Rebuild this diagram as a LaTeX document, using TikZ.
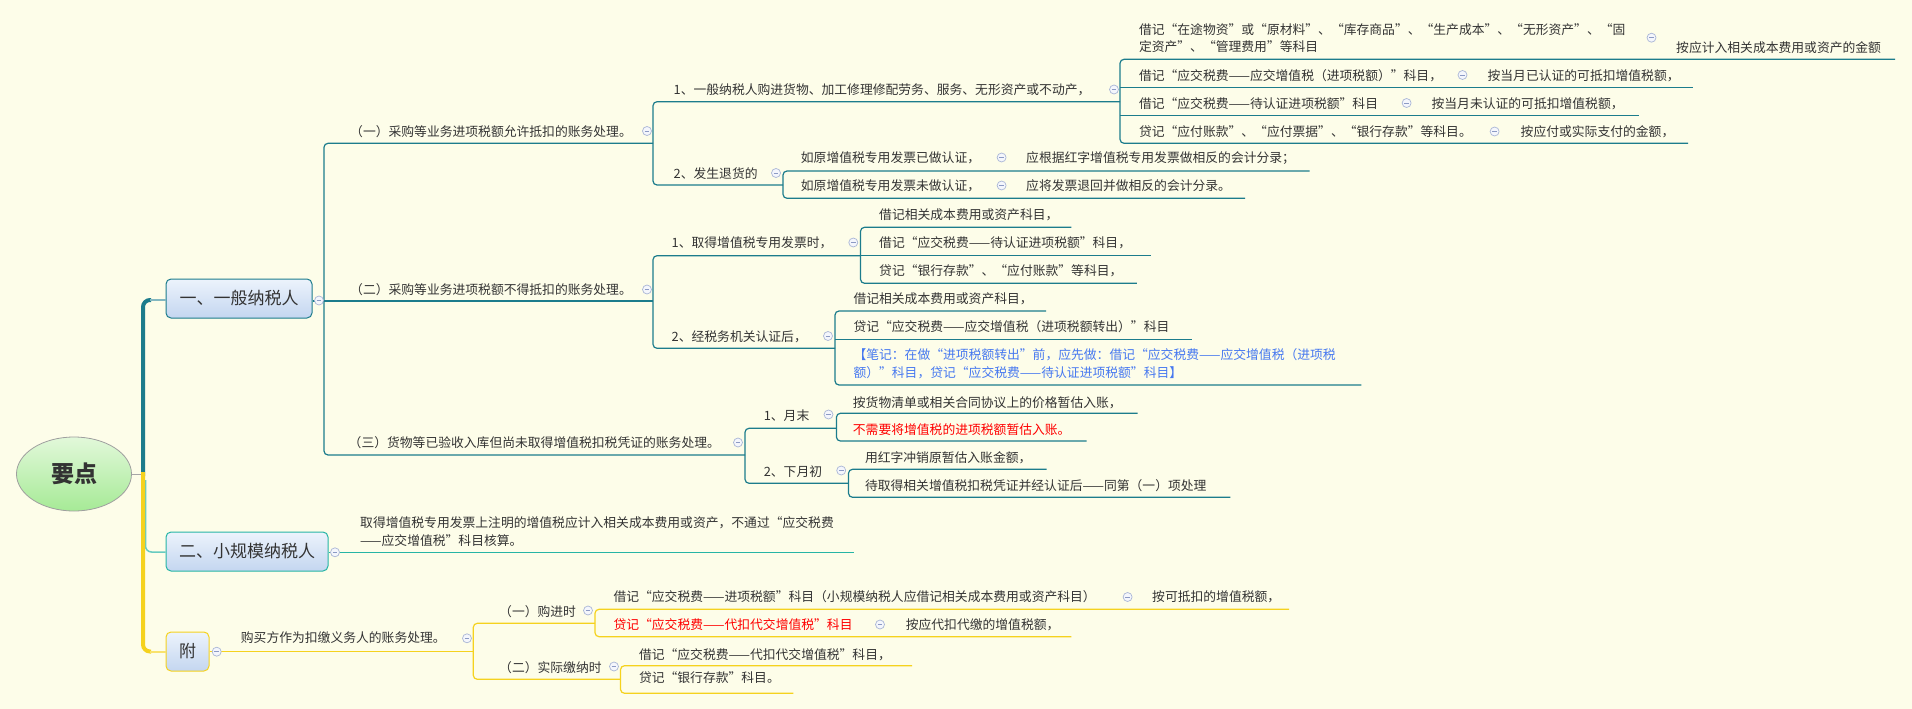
\documentclass[tikz,border=0pt]{standalone}
\usepackage{fontspec}
\setmainfont{Noto Sans CJK SC}
\usetikzlibrary{shapes.geometric}
\definecolor{bgc}{RGB}{253,253,233}
\definecolor{txtc}{RGB}{51,51,51}
\definecolor{tealc}{RGB}{28,124,140}
\definecolor{grc}{RGB}{38,181,165}
\definecolor{ylc}{RGB}{245,210,30}
\definecolor{colb}{RGB}{170,182,214}
\definecolor{colf}{RGB}{244,246,252}
\definecolor{colm}{RGB}{140,154,196}
\definecolor{redc}{RGB}{255,0,0}
\definecolor{bluec}{RGB}{70,120,240}
\definecolor{nodetop}{RGB}{236,243,252}
\definecolor{nodebot}{RGB}{196,214,240}
\definecolor{roottop}{RGB}{226,248,218}
\definecolor{rootbot}{RGB}{166,234,150}
\begin{document}
\begin{tikzpicture}[x=1pt,y=-1pt,
  txt/.style={anchor=west,inner sep=0pt,text=txtc,font=\fontsize{12.8}{17.5}\selectfont,text height=11pt,text depth=2pt},
  mtxt/.style={anchor=north west,inner sep=0pt,text=txtc,align=left,font=\fontsize{12.8}{17.5}\selectfont},
  tl/.style={draw=tealc,line width=1.2pt,rounded corners=4pt},
  gl/.style={draw=grc,line width=1.2pt},
  yl/.style={draw=ylc,line width=1.2pt,rounded corners=4pt},
  col/.style={circle,draw=colb,fill=colf,line width=0.7pt,minimum size=9pt,inner sep=0pt,
    path picture={\draw[colm,line width=0.8pt] ([xshift=-2.4pt]path picture bounding box.center) -- ([xshift=2.4pt]path picture bounding box.center);}},
  mainbox/.style={rectangle,rounded corners=5pt,top color=nodetop,bottom color=nodebot,line width=1pt,
    minimum height=39pt,inner sep=0pt,text=txtc,font=\fontsize{17}{17}\selectfont}
]
\fill[bgc] (0,0) rectangle (1912,709);
\useasboundingbox (0,0) rectangle (1912,709);

% ---------- root and trunk ----------
\node[ellipse,draw=gray!75,line width=0.8pt,top color=roottop,bottom color=rootbot,
  minimum width=115pt,minimum height=74pt,inner sep=0pt,text=txtc] (root) at (74,474)
  {\fontsize{23}{23}\selectfont\bfseries 要点};
\node[mainbox,draw=tealc,minimum width=146pt] (n1) at (239,298.5) {一、一般纳税人};
\node[mainbox,draw=grc,minimum width=162pt] (n2) at (247,551.5) {二、小规模纳税人};
\node[mainbox,draw=ylc,minimum width=43pt] (n3) at (187.5,651.5) {附};

\draw[gray!70,line width=1pt] (root.east) -- (143,474);
\draw[grc!70,line width=1.5pt,rounded corners=6pt] (145.5,480) -- (145.5,552) -- (n2.west |- 0,552);
\draw[tealc,line width=4pt,rounded corners=7pt] (143,476) -- (143,300) -- (151,300);
\draw[tealc!55,line width=2pt] (150,300) -- (n1.west |- 0,300);
\draw[ylc,line width=4pt,rounded corners=7pt] (143,472) -- (143,651.5) -- (151,651.5);
\draw[ylc!65,line width=2pt] (150,651.5) -- (n3.west |- 0,651.5);

% ---------- subtree 一 ----------
\draw[tl] (n1.east |- 0,301) -- (324,301);
\draw[tl] (653,143.3) -- (324,143.3) -- (324,455) -- (745,455);
\draw[tl] (324,301) -- (653,301);
\node[col] (k1) at (319,300.5) {};

\node[txt] (a1) at (350,131.5) {（一）采购等业务进项税额允许抵扣的账务处理。};
\node[col] (ka1) at (647,131) {};
\node[txt] (a2) at (350,290) {（二）采购等业务进项税额不得抵扣的账务处理。};
\node[col] (ka2) at (647,289.5) {};
\node[txt] (a3) at (348.5,443) {（三）货物等已验收入库但尚未取得增值税扣税凭证的账务处理。};
\node[col] (ka3) at (738,442.5) {};

% (一) children
\draw[tl] (1120,101.7) -- (653,101.7) -- (653,185) -- (783,185);
\node[txt] (b1) at (673.5,90) {1、一般纳税人购进货物、加工修理修配劳务、服务、无形资产或不动产，};
\node[col] (kb1) at (1114,89.5) {};
\node[txt] (b2) at (673.5,174) {2、发生退货的};
\node[col] (kb2) at (776,173) {};

\draw[tl] (1895,59.3) -- (1120,59.3) -- (1120,143.3) -- (1688,143.3);
\draw[tl] (1120,87.3) -- (1693,87.3);
\draw[tl] (1120,115.3) -- (1638.6,115.3);
\node[mtxt] (c1) at (1138.8,23) {借记“在途物资”或“原材料”、“库存商品”、“生产成本”、“无形资产”、“固\\定资产”、“管理费用”等科目};
\node[col] (kc1) at (1651.5,37.7) {};
\node[txt] (c1g) at (1676,47.7) {按应计入相关成本费用或资产的金额};
\node[txt] (c2) at (1138.8,76) {借记“应交税费——应交增值税（进项税额）”科目，};
\node[col] (kc2) at (1462.5,75) {};
\node[txt] (c2g) at (1487.4,76) {按当月已认证的可抵扣增值税额，};
\node[txt] (c3) at (1138.8,104) {借记“应交税费——待认证进项税额”科目};
\node[col] (kc3) at (1406.6,103) {};
\node[txt] (c3g) at (1431.4,104) {按当月未认证的可抵扣增值税额，};
\node[txt] (c4) at (1138.8,132.3) {贷记“应付账款”、“应付票据”、“银行存款”等科目。};
\node[col] (kc4) at (1494.6,131.5) {};
\node[txt] (c4g) at (1520.5,132.3) {按应付或实际支付的金额，};

\draw[tl] (1309.6,171) -- (783,171) -- (783,198.3) -- (1245,198.3);
\node[txt] (d1) at (800.7,158.3) {如原增值税专用发票已做认证，};
\node[col] (kd1) at (1001.6,157.5) {};
\node[txt] (d1g) at (1026,158.3) {应根据红字增值税专用发票做相反的会计分录；};
\node[txt] (d2) at (800.7,186) {如原增值税专用发票未做认证，};
\node[col] (kd2) at (1001.6,185.5) {};
\node[txt] (d2g) at (1026,186) {应将发票退回并做相反的会计分录。};

% (二) children
\draw[tl] (860.5,255.7) -- (653,255.7) -- (653,348.3) -- (835,348.3);
\node[txt] (e1) at (671.5,243.3) {1、取得增值税专用发票时，};
\node[col] (ke1) at (853.3,242.5) {};
\node[txt] (e2) at (671.5,336.7) {2、经税务机关认证后，};
\node[col] (ke2) at (828,336) {};

\draw[tl] (1071.4,227.3) -- (860.5,227.3) -- (860.5,283.3) -- (1136.8,283.3);
\draw[tl] (860.5,255.7) -- (1151.4,255.7);
\node[txt] (f1) at (879,215) {借记相关成本费用或资产科目，};
\node[txt] (f2) at (879,243.3) {借记“应交税费——待认证进项税额”科目，};
\node[txt] (f3) at (879,271) {贷记“银行存款”、“应付账款”等科目，};

\draw[tl] (1046.2,311) -- (835,311) -- (835,385) -- (1361.3,385);
\draw[tl] (835,339.3) -- (1191.6,339.3);
\node[txt] (g1) at (853.3,299.3) {借记相关成本费用或资产科目，};
\node[txt] (g2) at (853.3,326.7) {贷记“应交税费——应交增值税（进项税额转出）”科目};
\node[mtxt,text=bluec] (g3) at (853.3,348.7) {【笔记：在做“进项税额转出”前，应先做：借记“应交税费——应交增值税（进项税\\额）”科目，贷记“应交税费——待认证进项税额”科目】};

% (三) children
\draw[tl] (836.4,428.3) -- (745,428.3) -- (745,483.3) -- (848.5,483.3);
\node[txt] (h1) at (763.6,416) {1、月末};
\node[col] (kh1) at (828.5,414.5) {};
\node[txt] (h2) at (763.6,471.7) {2、下月初};
\node[col] (kh2) at (841.2,470.5) {};

\draw[tl] (1137.6,413.3) -- (836.4,413.3) -- (836.4,441) -- (1086.7,441);
\node[txt] (i1) at (852.7,402.7) {按货物清单或相关合同协议上的价格暂估入账，};
\node[txt,text=redc] (i2) at (852.7,430) {不需要将增值税的进项税额暂估入账。};

\draw[tl] (1046.7,469.3) -- (848.5,469.3) -- (848.5,497.3) -- (1230.3,497.3);
\node[txt] (j1) at (864.8,458.3) {用红字冲销原暂估入账金额，};
\node[txt] (j2) at (864.8,486) {待取得相关增值税扣税凭证并经认证后——同第（一）项处理};

% ---------- subtree 二 ----------
\draw[gl] (n2.east |- 0,552.3) -- (853.6,552.3);
\node[col] (k2) at (335,552.3) {};
\node[mtxt,font=\fontsize{12.8}{18.6}\selectfont] (s1) at (360,516.3) {取得增值税专用发票上注明的增值税应计入相关成本费用或资产，不通过“应交税费\\——应交增值税”科目核算。};

% ---------- subtree 附 ----------
\draw[yl] (n3.east |- 0,651.7) -- (473.3,651.7);
\draw[yl] (595,623.3) -- (473.3,623.3) -- (473.3,679.3) -- (620.5,679.3);
\node[col] (k3) at (216.7,651.7) {};
\node[txt] (l0) at (240.7,638.3) {购买方作为扣缴义务人的账务处理。};
\node[col] (kl0) at (467,638.3) {};
\node[txt] (l1) at (499,611.7) {（一）购进时};
\node[col] (kl1) at (588,610.5) {};
\node[txt] (l2) at (499,667.7) {（二）实际缴纳时};
\node[col] (kl2) at (614,666.5) {};

\draw[yl] (1289,609.3) -- (595,609.3) -- (595,636.7) -- (1071.4,636.7);
\node[txt] (m1) at (613.3,597.3) {借记“应交税费——进项税额”科目（小规模纳税人应借记相关成本费用或资产科目）};
\node[col] (km1) at (1127.6,597) {};
\node[txt] (m1g) at (1152,597.3) {按可抵扣的增值税额，};
\node[txt,text=redc] (m2) at (613.3,625) {贷记“应交税费——代扣代交增值税”科目};
\node[col] (km2) at (880,624.5) {};
\node[txt] (m2g) at (905.6,625) {按应代扣代缴的增值税额，};

\draw[yl] (912,665.7) -- (620.5,665.7) -- (620.5,693.3) -- (793.4,693.3);
\node[txt] (o1) at (638.8,655) {借记“应交税费——代扣代交增值税”科目，};
\node[txt] (o2) at (638.8,678.3) {贷记“银行存款”科目。};
\end{tikzpicture}
\end{document}
